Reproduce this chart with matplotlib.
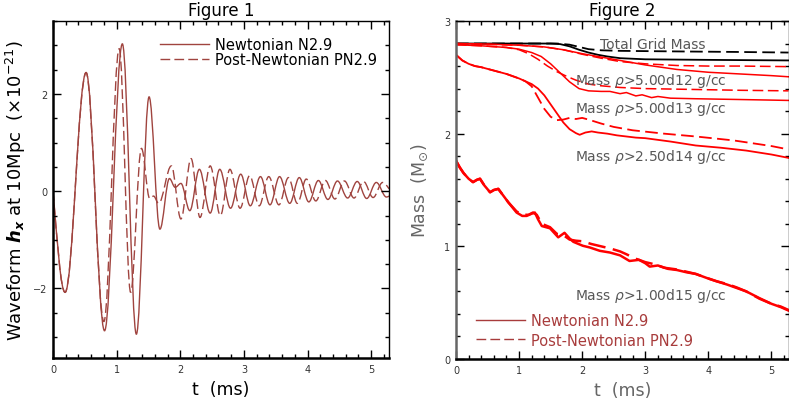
import matplotlib
matplotlib.use("Agg")
import matplotlib.pyplot as plt
from matplotlib.path import Path
from matplotlib.patches import PathPatch
from matplotlib.lines import Line2D
from matplotlib.ticker import MultipleLocator

# ---------------- Figure 1 : waveform extrema (t in ms, h in 1e-21) ----------------
t_n = [0.00, 0.19, 0.52, 0.81, 1.09, 1.31, 1.51, 1.68, 1.83, 1.92, 2.01, 2.15,
       2.30, 2.47, 2.62, 2.79, 2.95, 3.10, 3.26, 3.41, 3.56, 3.72, 3.87, 4.02,
       4.17, 4.32, 4.47, 4.63, 4.78, 4.93, 5.08, 5.24, 5.28]
h_n = [0.00, -2.08, 2.44, -2.87, 3.03, -2.94, 1.94, -0.78, 0.26, 0.08, 0.16, -0.40,
       0.45, -0.45, 0.45, -0.35, 0.35, -0.30, 0.30, -0.28, 0.30, -0.25, 0.28, -0.22,
       0.22, -0.17, 0.21, -0.14, 0.20, -0.15, 0.18, -0.12, -0.10]

t_pn = [0.00, 0.19, 0.52, 0.80, 1.04, 1.22, 1.39, 1.52, 1.58, 1.66, 1.86, 2.01,
        2.17, 2.31, 2.47, 2.63, 2.78, 2.94, 3.09, 3.24, 3.39, 3.55, 3.70, 3.84,
        3.98, 4.13, 4.28, 4.43, 4.58, 4.73, 4.88, 5.03, 5.18, 5.28]
h_pn = [0.00, -2.08, 2.44, -2.68, 2.93, -2.08, 0.88, -0.15, -0.10, -0.25, 0.52, -0.57,
        0.67, -0.54, 0.52, -0.50, 0.45, -0.35, 0.32, -0.30, 0.30, -0.28, 0.28, -0.25,
        0.25, -0.20, 0.22, -0.16, 0.21, -0.14, 0.20, -0.13, 0.18, 0.05]

# ---------------- Figure 2 : mass above density thresholds ----------------
t_tot_n = [0, 1.5, 1.65, 1.8, 1.95, 2.1, 2.25, 2.4, 2.6, 3.0, 4.0, 5.27]
m_tot_n = [2.80, 2.80, 2.795, 2.775, 2.745, 2.72, 2.70, 2.685, 2.67, 2.66, 2.655, 2.65]
t_tot_pn = [0, 1.6, 1.8, 1.95, 2.1, 2.3, 2.6, 3.5, 4.5, 5.27]
m_tot_pn = [2.80, 2.80, 2.79, 2.77, 2.75, 2.74, 2.735, 2.73, 2.725, 2.72]

t_12_n = [0, 0.5, 1.0, 1.4, 1.7, 2.0, 2.3, 2.6, 3.0, 3.5, 4.0, 4.5, 5.0, 5.27]
m_12_n = [2.80, 2.795, 2.785, 2.77, 2.745, 2.71, 2.68, 2.65, 2.61, 2.57, 2.545, 2.53, 2.515, 2.505]
t_12_pn = [0, 1.0, 1.4, 1.7, 2.0, 2.3, 2.6, 3.0, 3.5, 4.0, 4.5, 5.27]
m_12_pn = [2.80, 2.785, 2.77, 2.745, 2.705, 2.67, 2.64, 2.62, 2.605, 2.60, 2.60, 2.595]

t_13_n = [0, 0.4, 0.8, 1.0, 1.2, 1.35, 1.5, 1.65, 1.8, 1.95, 2.1, 2.3, 2.44, 2.6, 2.7,
          2.85, 2.95, 3.1, 3.2, 3.4, 3.8, 4.3, 4.8, 5.27]
m_13_n = [2.79, 2.78, 2.765, 2.75, 2.72, 2.685, 2.62, 2.54, 2.46, 2.40, 2.38, 2.375, 2.375,
          2.355, 2.365, 2.335, 2.345, 2.32, 2.33, 2.315, 2.31, 2.305, 2.30, 2.295]
t_13_pn = [0, 0.4, 0.8, 1.0, 1.15, 1.3, 1.45, 1.6, 1.75, 1.9, 2.1, 2.3, 2.6, 3.0, 3.5,
           4.0, 4.5, 5.27]
m_13_pn = [2.79, 2.78, 2.765, 2.745, 2.71, 2.66, 2.60, 2.55, 2.51, 2.475, 2.44, 2.425,
           2.41, 2.40, 2.395, 2.39, 2.385, 2.38]

t_14_n = [0, 0.1, 0.2, 0.3, 0.4, 0.5, 0.6, 0.7, 0.8, 0.9, 1.0, 1.1, 1.2, 1.3, 1.4, 1.5,
          1.6, 1.7, 1.8, 1.9, 1.96, 2.05, 2.15, 2.25, 2.4, 2.55, 2.7, 2.85, 3.0, 3.4,
          3.8, 4.2, 4.6, 5.0, 5.27]
m_14_n = [2.70, 2.65, 2.62, 2.60, 2.59, 2.575, 2.56, 2.545, 2.53, 2.51, 2.49, 2.465, 2.44,
          2.40, 2.34, 2.26, 2.18, 2.10, 2.04, 2.005, 1.99, 2.01, 2.02, 2.01, 2.00, 1.985,
          1.975, 1.965, 1.96, 1.93, 1.895, 1.875, 1.85, 1.815, 1.785]
t_14_pn = [0, 0.1, 0.2, 0.3, 0.4, 0.5, 0.6, 0.7, 0.8, 0.9, 1.0, 1.1, 1.2, 1.3, 1.4, 1.5,
           1.6, 1.7, 1.8, 1.9, 2.0, 2.1, 2.3, 2.5, 2.8, 3.3, 3.8, 4.4, 5.0, 5.27]
m_14_pn = [2.70, 2.65, 2.62, 2.60, 2.59, 2.575, 2.56, 2.545, 2.53, 2.51, 2.49, 2.465, 2.42,
           2.32, 2.22, 2.15, 2.12, 2.125, 2.14, 2.13, 2.14, 2.125, 2.09, 2.06, 2.03, 2.00,
           1.975, 1.94, 1.89, 1.86]

t_15_n = [0, 0.06, 0.12, 0.2, 0.27, 0.33, 0.38, 0.45, 0.54, 0.6, 0.67, 0.75, 0.83, 0.96,
          1.05, 1.12, 1.2, 1.25, 1.3, 1.36, 1.49, 1.62, 1.72, 1.8, 1.86, 2.01, 2.12, 2.28,
          2.44, 2.6, 2.75, 2.9, 3.0, 3.07, 3.2, 3.36, 3.5, 3.65, 3.8, 3.97, 4.13, 4.3,
          4.45, 4.6, 4.81, 5.0, 5.15, 5.27]
m_15_n = [1.76, 1.70, 1.65, 1.60, 1.57, 1.59, 1.60, 1.54, 1.48, 1.50, 1.51, 1.45, 1.39, 1.30,
          1.27, 1.27, 1.29, 1.30, 1.24, 1.18, 1.16, 1.08, 1.12, 1.07, 1.04, 1.005, 0.99, 0.96,
          0.945, 0.92, 0.87, 0.88, 0.85, 0.82, 0.83, 0.80, 0.79, 0.77, 0.755, 0.72, 0.69, 0.66,
          0.63, 0.60, 0.54, 0.49, 0.46, 0.43]
t_15_pn = [0, 0.06, 0.12, 0.2, 0.27, 0.33, 0.38, 0.45, 0.54, 0.6, 0.67, 0.75, 0.83, 0.96,
           1.05, 1.15, 1.22, 1.28, 1.36, 1.49, 1.6, 1.7, 1.8, 1.9, 2.0, 2.15, 2.3, 2.45,
           2.6, 2.7, 2.85, 3.0, 3.15, 3.3, 3.5, 3.65, 3.8, 3.97, 4.13, 4.3, 4.45, 4.6,
           4.81, 5.0, 5.15, 5.27]
m_15_pn = [1.76, 1.70, 1.65, 1.60, 1.57, 1.59, 1.60, 1.54, 1.48, 1.50, 1.51, 1.45, 1.39, 1.31,
           1.28, 1.28, 1.30, 1.28, 1.20, 1.17, 1.11, 1.10, 1.06, 1.05, 1.045, 1.02, 1.00, 0.98,
           0.955, 0.93, 0.89, 0.86, 0.84, 0.81, 0.795, 0.775, 0.755, 0.72, 0.69, 0.665, 0.635,
           0.60, 0.535, 0.49, 0.465, 0.435]

labels_rho = ["Total Grid Mass", r"Mass $\rho$>5.00d12 g/cc", r"Mass $\rho$>5.00d13 g/cc",
              r"Mass $\rho$>2.50d14 g/cc", r"Mass $\rho$>1.00d15 g/cc"]
label_t = [2.28, 1.89, 1.89, 1.89, 1.89]
label_m = [2.80, 2.48, 2.23, 1.80, 0.57]

WAVE = "#a0443f"
LEG = "#a83c3c"
GRAY = "#585858"
DASH = (0, (7, 3))


def wave_path(ts, hs, k=0.36):
    # smooth curve through the extrema (horizontal tangent at each turning point)
    verts = [(ts[0], hs[0])]
    codes = [Path.MOVETO]
    n = len(ts)
    for i in range(n - 1):
        t0, h0, t1, h1 = ts[i], hs[i], ts[i + 1], hs[i + 1]
        dt = t1 - t0
        c1 = h0 if i > 0 else h0 + 0.5 * (h1 - h0)
        c2 = h1 if i < n - 2 else h1 - 0.5 * (h1 - h0)
        verts += [(t0 + k * dt, c1), (t1 - k * dt, c2), (t1, h1)]
        codes += [Path.CURVE4] * 3
    return Path(verts, codes)


def style_axes(ax, ymajor, yminor):
    ax.xaxis.set_major_locator(MultipleLocator(1))
    ax.xaxis.set_minor_locator(MultipleLocator(0.2))
    ax.yaxis.set_major_locator(MultipleLocator(ymajor))
    ax.yaxis.set_minor_locator(MultipleLocator(yminor))
    ax.tick_params(which="both", direction="in", top=True, right=True,
                   labelsize=7, labelcolor="#333333", pad=4)
    ax.tick_params(which="major", length=6, width=1)
    ax.tick_params(which="minor", length=3, width=1)
    for s in ["left", "bottom"]:
        ax.spines[s].set_linewidth(1.8)
    for s in ["top", "right"]:
        ax.spines[s].set_linewidth(1.0)


fig = plt.figure(figsize=(7.89, 4.10), dpi=100)

# ---- Figure 1
ax1 = fig.add_axes([53 / 789, 51 / 410, 336 / 789, 337 / 410])
ax1.add_patch(PathPatch(wave_path(t_n, h_n), fill=False, edgecolor=WAVE, lw=1.0))
ax1.add_patch(PathPatch(wave_path(t_pn, h_pn), fill=False, edgecolor=WAVE, lw=1.0,
                        linestyle=DASH))
ax1.set_xlim(0, 5.28)
ax1.set_ylim(-3.43, 3.5)
style_axes(ax1, 2, 0.5)
ax1.set_title("Figure 1", fontsize=12, pad=4)
ax1.set_xlabel("t  (ms)", fontsize=12.5, labelpad=5)
ax1.set_ylabel(r"Waveform $\boldsymbol{h}_{\boldsymbol{x}}$ at 10Mpc  ($\times$10$^{-21}$)",
               fontsize=13, labelpad=4)
h1 = [Line2D([], [], color=WAVE, lw=1.0), Line2D([], [], color=WAVE, lw=1.0, ls=DASH)]
ax1.legend(h1, ["Newtonian N2.9", "Post-Newtonian PN2.9"], loc="upper left",
           bbox_to_anchor=(0.27, 1.0), frameon=False, fontsize=10.5,
           handlelength=3.4, handletextpad=0.4, labelspacing=0.0, borderpad=0.6)

# ---- Figure 2
ax2 = fig.add_axes([456 / 789, 50 / 410, 332.5 / 789, 338 / 410])
ax2.plot(t_tot_n, m_tot_n, color="black", lw=1.3)
ax2.plot(t_tot_pn, m_tot_pn, color="black", lw=1.3, ls=DASH)
ax2.plot(t_12_n, m_12_n, color="red", lw=1.1)
ax2.plot(t_12_pn, m_12_pn, color="red", lw=1.1, ls=DASH)
ax2.plot(t_13_n, m_13_n, color="red", lw=1.1)
ax2.plot(t_13_pn, m_13_pn, color="red", lw=1.1, ls=DASH)
ax2.plot(t_14_n, m_14_n, color="red", lw=1.3)
ax2.plot(t_14_pn, m_14_pn, color="red", lw=1.3, ls=DASH)
ax2.plot(t_15_n, m_15_n, color="red", lw=1.8)
ax2.plot(t_15_pn, m_15_pn, color="red", lw=1.8, ls=DASH)
for lab, x, y in zip(labels_rho, label_t, label_m):
    ax2.text(x, y, lab, fontsize=10, color=GRAY, va="center", ha="left")
ax2.set_xlim(0, 5.27)
ax2.set_ylim(0, 3)
style_axes(ax2, 1, 0.2)
ax2.spines["left"].set_color("#666666")
ax2.set_title("Figure 2", fontsize=12, pad=4)
ax2.set_xlabel("t  (ms)", fontsize=12.5, labelpad=5, color="#666666")
ax2.set_ylabel(r"Mass  (M$_{\odot}$)", fontsize=12.5, labelpad=10, color="#666666")
h2 = [Line2D([], [], color=LEG, lw=1.0), Line2D([], [], color=LEG, lw=1.0, ls=DASH)]
ax2.legend(h2, ["Newtonian N2.9", "Post-Newtonian PN2.9"], loc="lower left",
           bbox_to_anchor=(0.02, -0.005), frameon=False, fontsize=10.5, labelcolor=LEG,
           handlelength=3.4, handletextpad=0.4, labelspacing=0.3)

fig.savefig("out.png", dpi=100)
